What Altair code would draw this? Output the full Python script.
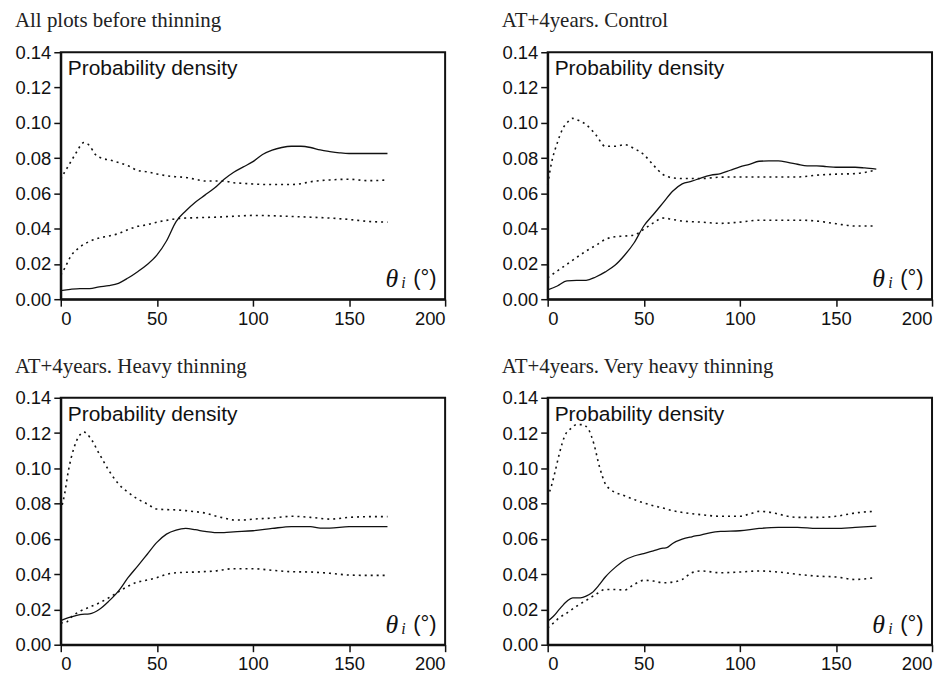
import altair as alt
import pandas as pd

# ---------------- data ----------------
titles = ["All plots before thinning", "AT+4years. Control",
          "AT+4years. Heavy thinning", "AT+4years. Very heavy thinning"]

# Panel 1
p1_solid_x = [0, 5, 10, 15, 20, 25, 30, 35, 40, 45, 50, 55, 60, 65, 70, 75, 80, 85, 90, 95, 100,
              105, 110, 115, 120, 125, 130, 135, 140, 145, 150, 160, 170]
p1_solid_y = [0.0049, 0.0056, 0.006, 0.006, 0.007, 0.0077, 0.009, 0.012, 0.0156, 0.0197, 0.025,
              0.033, 0.044, 0.050, 0.055, 0.059, 0.063, 0.068, 0.072, 0.075, 0.078, 0.082, 0.0845,
              0.086, 0.0867, 0.0867, 0.086, 0.0846, 0.0837, 0.083, 0.0826, 0.0826, 0.0826]
p1_up_x = [0, 2, 5, 8, 12, 15, 18, 22, 25, 30, 35, 40, 45, 50, 55, 60, 65, 70, 75, 80, 85, 90,
           95, 100, 110, 120, 125, 130, 140, 150, 160, 170]
p1_up_y = [0.068, 0.072, 0.0775, 0.083, 0.0888, 0.087, 0.082, 0.0797, 0.079, 0.0775, 0.0756,
           0.073, 0.0722, 0.071, 0.070, 0.0694, 0.069, 0.068, 0.067, 0.067, 0.067, 0.066, 0.0657,
           0.0653, 0.065, 0.065, 0.0655, 0.0666, 0.0676, 0.068, 0.0672, 0.0676]
p1_lo_x = [0, 2, 5, 10, 15, 20, 25, 30, 35, 40, 45, 50, 55, 60, 70, 80, 90, 100, 110, 120, 130,
           140, 150, 160, 170]
p1_lo_y = [0.0137, 0.0175, 0.024, 0.0296, 0.0328, 0.0347, 0.0358, 0.0372, 0.0394, 0.0413, 0.0422,
           0.0437, 0.0447, 0.0456, 0.0462, 0.0465, 0.047, 0.0475, 0.0473, 0.0469, 0.0465, 0.046,
           0.0452, 0.0441, 0.0437]

# Panel 2
p2_solid_x = [0, 5, 10, 15, 20, 25, 30, 35, 40, 45, 50, 55, 60, 65, 70, 75, 80, 85, 90, 95, 100,
              105, 110, 115, 120, 125, 130, 135, 140, 145, 150, 160, 165, 171]
p2_solid_y = [0.0053, 0.0075, 0.0104, 0.0107, 0.0107, 0.0126, 0.0155, 0.0192, 0.0249, 0.032,
              0.0415, 0.048, 0.0546, 0.0612, 0.0654, 0.0669, 0.0688, 0.0703, 0.0712, 0.0731, 0.075,
              0.0765, 0.0782, 0.0784, 0.0784, 0.0776, 0.0765, 0.0756, 0.0756, 0.0752, 0.0748,
              0.0748, 0.0744, 0.0737]
p2_up_x = [0, 2, 5, 8, 10, 13, 16, 20, 25, 30, 35, 40, 45, 50, 55, 60, 65, 70, 80, 90, 100, 110,
           120, 130, 140, 150, 160, 170]
p2_up_y = [0.065, 0.0773, 0.0886, 0.097, 0.0999, 0.1025, 0.1014, 0.099, 0.0933, 0.0867, 0.0867,
           0.0876, 0.0854, 0.082, 0.076, 0.0707, 0.0688, 0.0684, 0.0684, 0.0692, 0.0693, 0.0693,
           0.0693, 0.0693, 0.0703, 0.0709, 0.0712, 0.073]
p2_lo_x = [0, 5, 10, 15, 20, 25, 30, 35, 40, 45, 50, 55, 60, 65, 70, 80, 90, 100, 110, 120, 130,
           140, 150, 160, 170]
p2_lo_y = [0.0122, 0.016, 0.0198, 0.0236, 0.0273, 0.0305, 0.0339, 0.0354, 0.0358, 0.0364, 0.0396,
           0.0433, 0.046, 0.0452, 0.0443, 0.0437, 0.043, 0.0437, 0.0448, 0.0448, 0.0448, 0.0443,
           0.0428, 0.0415, 0.0415]

# Panel 3
p3_solid_x = [0, 5, 10, 15, 20, 25, 30, 35, 40, 45, 50, 55, 60, 65, 70, 75, 80, 85, 90, 100, 110,
              120, 130, 135, 140, 150, 160, 170]
p3_solid_y = [0.0137, 0.0156, 0.0171, 0.0175, 0.02, 0.0247, 0.0304, 0.038, 0.0446, 0.0513, 0.058,
              0.0627, 0.065, 0.0659, 0.0652, 0.0642, 0.0636, 0.0636, 0.064, 0.0646, 0.0659, 0.067,
              0.067, 0.0661, 0.0661, 0.067, 0.067, 0.067]
p3_up_x = [0, 2, 4, 7, 10, 12, 15, 20, 25, 30, 35, 40, 45, 50, 55, 60, 65, 70, 75, 80, 85, 90, 95,
           100, 110, 120, 130, 140, 150, 160, 170]
p3_up_y = [0.076, 0.0855, 0.0988, 0.112, 0.119, 0.1206, 0.1178, 0.1083, 0.0988, 0.0912, 0.0864,
           0.0826, 0.0798, 0.0769, 0.0766, 0.0764, 0.076, 0.0754, 0.0747, 0.0731, 0.0718, 0.0707,
           0.0707, 0.0712, 0.0718, 0.0728, 0.0722, 0.0712, 0.0722, 0.0726, 0.0726]
p3_lo_x = [0, 3, 5, 10, 15, 20, 25, 30, 35, 40, 45, 50, 55, 60, 70, 80, 90, 100, 110, 120, 130,
           140, 150, 160, 170]
p3_lo_y = [0.0123, 0.0129, 0.0152, 0.019, 0.0213, 0.0237, 0.0266, 0.03, 0.0332, 0.0355, 0.0367,
           0.038, 0.0399, 0.0408, 0.0412, 0.0418, 0.0431, 0.0431, 0.0422, 0.0414, 0.0412, 0.0405,
           0.0395, 0.0393, 0.0393]

# Panel 4
p4_solid_x = [0, 3, 6, 10, 13, 17, 20, 23, 27, 30, 35, 40, 45, 50, 55, 60, 62, 65, 70, 75, 80, 85,
              90, 100, 110, 120, 130, 140, 150, 160, 171]
p4_solid_y = [0.0133, 0.0161, 0.02, 0.0247, 0.0266, 0.0266, 0.0275, 0.0294, 0.0342, 0.0384,
              0.0437, 0.0479, 0.0503, 0.0517, 0.0532, 0.0547, 0.055, 0.0574, 0.0598, 0.0612,
              0.0623, 0.0636, 0.0642, 0.0646, 0.0659, 0.0665, 0.0665, 0.0659, 0.0659, 0.0665,
              0.0672]
p4_up_x = [0, 2, 4, 6, 9, 12, 15, 18, 21, 24, 27, 30, 33, 40, 45, 50, 55, 60, 65, 70, 80, 90, 100,
           105, 110, 115, 120, 125, 130, 140, 150, 160, 170]
p4_up_y = [0.0836, 0.0902, 0.0988, 0.108, 0.1187, 0.1225, 0.1248, 0.1248, 0.1225, 0.114, 0.1007,
           0.0912, 0.0878, 0.0845, 0.0823, 0.0804, 0.0788, 0.0775, 0.076, 0.075, 0.0737, 0.0728,
           0.0728, 0.0741, 0.0756, 0.0752, 0.0741, 0.0728, 0.0722, 0.0722, 0.0728, 0.0747, 0.0756]
p4_lo_x = [0, 3, 6, 10, 15, 20, 25, 30, 35, 40, 45, 50, 55, 60, 65, 70, 75, 80, 90, 100, 110, 120,
           130, 140, 150, 160, 170]
p4_lo_y = [0.0095, 0.0123, 0.0152, 0.018, 0.0218, 0.0251, 0.0285, 0.0313, 0.0313, 0.031, 0.0342,
           0.0365, 0.0361, 0.0351, 0.0355, 0.037, 0.0408, 0.0418, 0.0408, 0.0412, 0.0418, 0.0412,
           0.0399, 0.0389, 0.0384, 0.037, 0.038]

x_ticks = [0, 50, 100, 150, 200]
y_ticks = [0.00, 0.02, 0.04, 0.06, 0.08, 0.10, 0.12, 0.14]

panels = [
    (titles[0], (p1_solid_x, p1_solid_y), (p1_up_x, p1_up_y), (p1_lo_x, p1_lo_y)),
    (titles[1], (p2_solid_x, p2_solid_y), (p2_up_x, p2_up_y), (p2_lo_x, p2_lo_y)),
    (titles[2], (p3_solid_x, p3_solid_y), (p3_up_x, p3_up_y), (p3_lo_x, p3_lo_y)),
    (titles[3], (p4_solid_x, p4_solid_y), (p4_up_x, p4_up_y), (p4_lo_x, p4_lo_y)),
]

W, H = 386, 248
SANS = "Liberation Sans"
SERIF = "Liberation Serif"
INK = "#111"

xscale = alt.Scale(domain=[0, 200], nice=False)
yscale = alt.Scale(domain=[0, 0.14], nice=False)
xaxis = alt.Axis(values=x_ticks, title=None, labelFont=SANS, labelFontSize=18.5, labelColor=INK,
                 tickColor=INK, tickSize=7, tickWidth=1.5, domainColor=INK, domainWidth=2,
                 grid=False, labelPadding=3, labelOverlap=False)
yaxis = alt.Axis(values=y_ticks, format=".2f", title=None, labelFont=SANS, labelFontSize=18.5,
                 labelColor=INK, tickColor=INK, tickSize=7, tickWidth=1.5, tickCount=8,
                 domainColor=INK, domainWidth=2, grid=False, labelPadding=3, labelOverlap=False)


def series_df(xs, ys, name):
    return pd.DataFrame({"x": xs, "y": ys, "s": name})


def panel(title, solid, up, lo):
    base_solid = alt.Chart(series_df(*solid, "solid")).mark_line(
        color=INK, strokeWidth=1.3, interpolate="monotone"
    ).encode(x=alt.X("x:Q", scale=xscale, axis=xaxis), y=alt.Y("y:Q", scale=yscale, axis=yaxis))
    up_line = alt.Chart(series_df(*up, "up")).mark_line(
        color=INK, strokeWidth=1.6, strokeDash=[2, 4], interpolate="monotone"
    ).encode(x=alt.X("x:Q", scale=xscale, axis=xaxis), y=alt.Y("y:Q", scale=yscale, axis=yaxis))
    lo_line = alt.Chart(series_df(*lo, "lo")).mark_line(
        color=INK, strokeWidth=1.6, strokeDash=[2, 4], interpolate="monotone"
    ).encode(x=alt.X("x:Q", scale=xscale, axis=xaxis), y=alt.Y("y:Q", scale=yscale, axis=yaxis))
    label = alt.Chart(pd.DataFrame({"t": ["Probability density"]})).mark_text(
        font=SANS, fontSize=21, align="left", baseline="middle", color=INK
    ).encode(text="t:N", x=alt.value(7), y=alt.value(17))
    theta = alt.Chart(pd.DataFrame({"t": ["θ"]})).mark_text(
        font=SERIF, fontSize=26, fontStyle="italic", align="left", baseline="middle", color=INK
    ).encode(text="t:N", x=alt.value(326), y=alt.value(228))
    sub = alt.Chart(pd.DataFrame({"t": ["i"]})).mark_text(
        font=SERIF, fontSize=16, fontStyle="italic", align="left", baseline="middle", color=INK
    ).encode(text="t:N", x=alt.value(342), y=alt.value(232))
    unit = alt.Chart(pd.DataFrame({"t": ["(°)"]})).mark_text(
        font=SANS, fontSize=22, align="left", baseline="middle", color=INK
    ).encode(text="t:N", x=alt.value(354), y=alt.value(227))
    return alt.layer(base_solid, up_line, lo_line, label, theta, sub, unit).properties(
        width=W, height=H,
        title=alt.TitleParams(title, anchor="start", font=SERIF, fontSize=21, fontWeight="normal",
                              color="#222", offset=12, frame="bounds"),
    )


charts = [panel(*p) for p in panels]
chart = alt.vconcat(
    alt.hconcat(charts[0], charts[1], spacing=53),
    alt.hconcat(charts[2], charts[3], spacing=53),
    spacing=26,
).properties(
    padding={"left": 5, "top": 0, "right": 5, "bottom": 5}
).configure(background="white").configure_view(stroke=INK, strokeWidth=2).configure_axis(
    labelOverlap=False
)

chart.save("out.html", embed_options={"renderer": "svg", "actions": False})
